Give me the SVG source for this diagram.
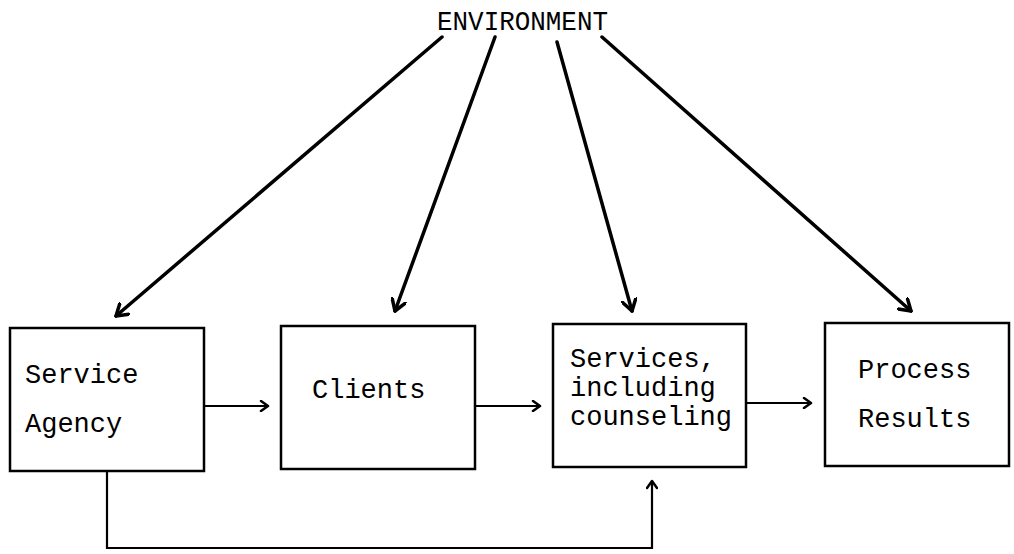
<svg xmlns="http://www.w3.org/2000/svg" width="1014" height="554" viewBox="0 0 1014 554">
<style>
.box{fill:#fff;stroke:#000;stroke-width:2.5}
.t{font-family:"Liberation Mono",monospace;font-size:27px;fill:#000}
.env{fill:none;stroke:#000;stroke-width:3.5;stroke-linecap:round}
.flow{fill:none;stroke:#000;stroke-width:2.2}
</style>
<defs>
<marker id="big" viewBox="-12 -8 14 16" markerWidth="14" markerHeight="16" refX="0" refY="0" orient="auto" markerUnits="userSpaceOnUse">
<path d="M-11,-7 L0,0 L-11,7" fill="none" stroke="#000" stroke-width="3.5" stroke-linecap="round" stroke-linejoin="round"/>
</marker>
<marker id="sm" viewBox="-9 -6 11 12" markerWidth="11" markerHeight="12" refX="0" refY="0" orient="auto" markerUnits="userSpaceOnUse">
<path d="M-7,-5 L0,0 L-7,5" fill="none" stroke="#000" stroke-width="2.5" stroke-linecap="round" stroke-linejoin="round"/>
</marker>
</defs>
<text class="t" x="437" y="30" textLength="171" lengthAdjust="spacingAndGlyphs">ENVIRONMENT</text>
<g id="agency"><rect class="box" x="10" y="328" width="194" height="143"/><text class="t" x="25" y="383">Service</text><text class="t" x="25" y="432">Agency</text></g>
<g id="clients"><rect class="box" x="281" y="326" width="194" height="143"/><text class="t" x="312" y="398">Clients</text></g>
<g id="services"><rect class="box" x="553" y="324" width="193" height="143"/><text class="t" x="570" y="367">Services,</text><text class="t" x="570" y="396">including</text><text class="t" x="570" y="425">counseling</text></g>
<g id="results"><rect class="box" x="825" y="323" width="184" height="143"/><text class="t" x="858" y="378">Process</text><text class="t" x="858" y="427">Results</text></g>
<g id="connectors">
<line class="env" x1="442" y1="37" x2="116" y2="316" marker-end="url(#big)"/>
<line class="env" x1="495" y1="37" x2="395" y2="311" marker-end="url(#big)"/>
<line class="env" x1="557" y1="42" x2="632" y2="311" marker-end="url(#big)"/>
<line class="env" x1="602" y1="37" x2="911" y2="311" marker-end="url(#big)"/>
<line class="flow" x1="204" y1="406" x2="268" y2="406" marker-end="url(#sm)"/>
<line class="flow" x1="475" y1="406" x2="540" y2="406" marker-end="url(#sm)"/>
<line class="flow" x1="746" y1="403" x2="811" y2="403" marker-end="url(#sm)"/>
<polyline class="flow" points="107,471 107,548 652,548 652,481" marker-end="url(#sm)"/>
</g>
</svg>
